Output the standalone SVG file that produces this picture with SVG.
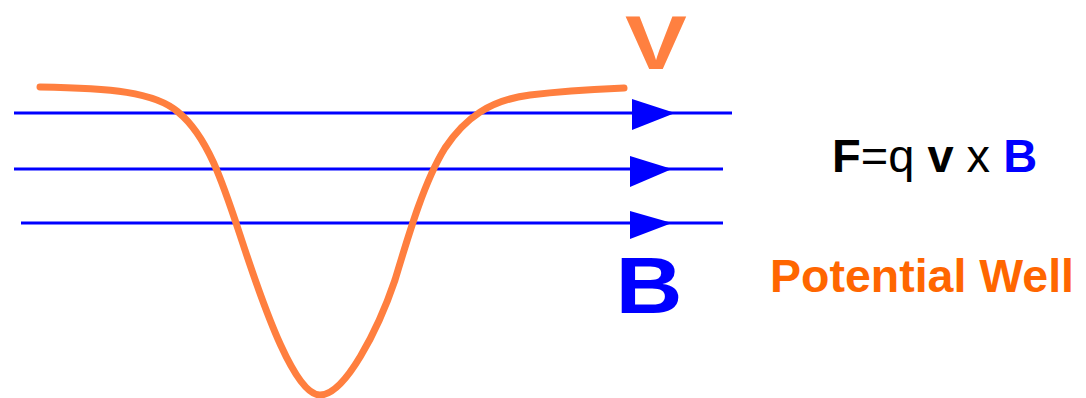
<svg xmlns="http://www.w3.org/2000/svg" width="1086" height="398" viewBox="0 0 1086 398">
<style>
.fl{stroke:#0000FF;stroke-width:3.2;fill:none}
.ah{fill:#0000FF}
.well{stroke:#FF7F3F;stroke-width:7;fill:none;stroke-linecap:round;stroke-linejoin:round}
.t{font-family:"Liberation Sans",Arial,sans-serif}
</style>
<rect width="1086" height="398" fill="#fff"/>
<g id="connectors">
<line class="fl" x1="14" y1="113" x2="732" y2="113"/>
<line class="fl" x1="14" y1="169" x2="723" y2="169"/>
<line class="fl" x1="21" y1="223" x2="723" y2="223"/>
<polygon class="ah" points="632,99 675,113 632,130"/>
<polygon class="ah" points="630,156 672,169 630,187"/>
<polygon class="ah" points="630,211 672,223 630,239"/>
</g>
<g id="well">
<path class="well" d="M40,87 C110,88 155,92 178,112 C210,138 225,190 245,250 C265,310 295,395 320,395 C345,395 378,330 395,280 C410,230 425,180 445,148 C465,118 490,100 530,95 C570,90 600,89 624,88"/>
</g>
<g id="labelV">
<text class="t" transform="translate(656,69) scale(1.22,1)" text-anchor="middle" font-size="76" font-weight="bold" fill="#FF8040">V</text>
</g>
<g id="labelB">
<text class="t" transform="translate(649,313) scale(1.16,1)" text-anchor="middle" font-size="80" font-weight="bold" fill="#0000FF">B</text>
</g>
<g id="formula">
<text class="t" x="832" y="172" font-size="47"><tspan font-weight="bold">F</tspan>=q <tspan font-weight="bold">v</tspan> x <tspan font-weight="bold" fill="#0000FF">B</tspan></text>
</g>
<g id="potential">
<text class="t" x="770" y="292" font-size="46.5" font-weight="bold" fill="#FF6600">Potential Well</text>
</g>
</svg>
